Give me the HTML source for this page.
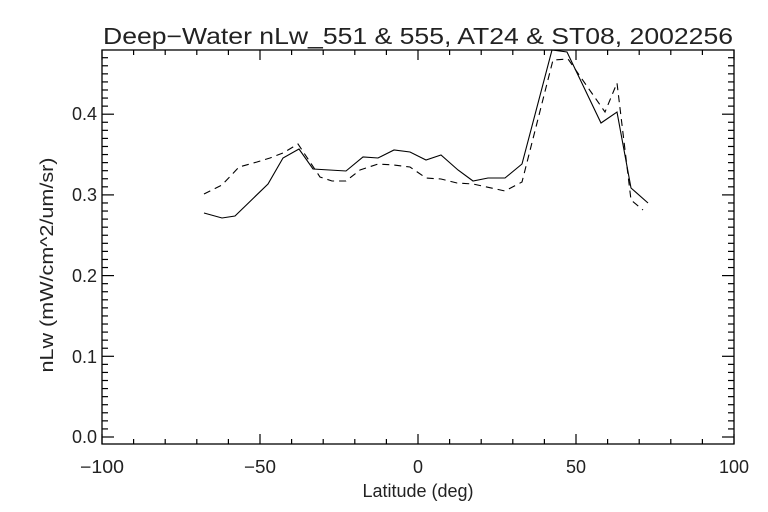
<!DOCTYPE html>
<html><head><style>body{margin:0;background:#fff}svg{display:block}text{font-family:"Liberation Sans",sans-serif;fill:#222}</style></head>
<body>
<svg width="768" height="512" viewBox="0 0 768 512" xmlns="http://www.w3.org/2000/svg">
<rect width="768" height="512" fill="#fff"/>
<text x="103" y="44" font-size="23" textLength="630" lengthAdjust="spacingAndGlyphs">Deep−Water nLw_551 &amp; 555, AT24 &amp; ST08, 2002256</text>
<rect x="102" y="50" width="632" height="394" fill="none" stroke="#000" stroke-width="1.3"/>
<g id="ticks" stroke="#000" stroke-width="1.2"></g>
<g font-size="18" text-anchor="middle">
<text x="102" y="473" textLength="44" lengthAdjust="spacingAndGlyphs">−100</text>
<text x="260" y="473" textLength="32" lengthAdjust="spacingAndGlyphs">−50</text>
<text x="418" y="473">0</text>
<text x="576" y="473">50</text>
<text x="734" y="473">100</text>
</g>
<g font-size="18" text-anchor="end">
<text x="97" y="443">0.0</text>
<text x="97" y="363">0.1</text>
<text x="97" y="282">0.2</text>
<text x="97" y="201">0.3</text>
<text x="97" y="120">0.4</text>
</g>
<text x="418" y="497" font-size="18" text-anchor="middle">Latitude (deg)</text>
<text transform="translate(53,265) rotate(-90)" font-size="18" text-anchor="middle" textLength="215" lengthAdjust="spacingAndGlyphs">nLw (mW/cm^2/um/sr)</text>
<polyline fill="none" stroke="#000" stroke-width="1.1" points="204,213 222,218 235,216 268,184 283,158 299,149 313,169 346,171 363,157 378,158 394,150 410,152 426,160 441,155 458,170 473,181 488,178 505,178 522,164 552,50 567,52 601,123 617,112 631,188 648,203"/>
<polyline fill="none" stroke="#000" stroke-width="1.1" stroke-dasharray="7,5" points="204,194 222,185 239,167 257,162 270,158 283,153 298,144 320,177 332,181 346,181 360,170 378,164 394,165 410,167 426,178 441,179 457,183 473,184 505,191 522,182 553,60 568,59 605,112 617,83 631,200 643,210"/>
</svg>
<script>
var g=document.getElementById('ticks'),s='';
for(var i=0;i<=20;i++){var x=102+i*31.6,L=(i%5==0)?10:5;s+='<line x1="'+x+'" y1="444" x2="'+x+'" y2="'+(444-L)+'"/><line x1="'+x+'" y1="50" x2="'+x+'" y2="'+(50+L)+'"/>';}
for(var j=0;j<=47;j++){var y=437-j*8.07,L=(j%10==0)?12:6;s+='<line x1="102" y1="'+y+'" x2="'+(102+L)+'" y2="'+y+'"/><line x1="734" y1="'+y+'" x2="'+(734-L)+'" y2="'+y+'"/>';}
g.innerHTML=s;
</script>
</body></html>
